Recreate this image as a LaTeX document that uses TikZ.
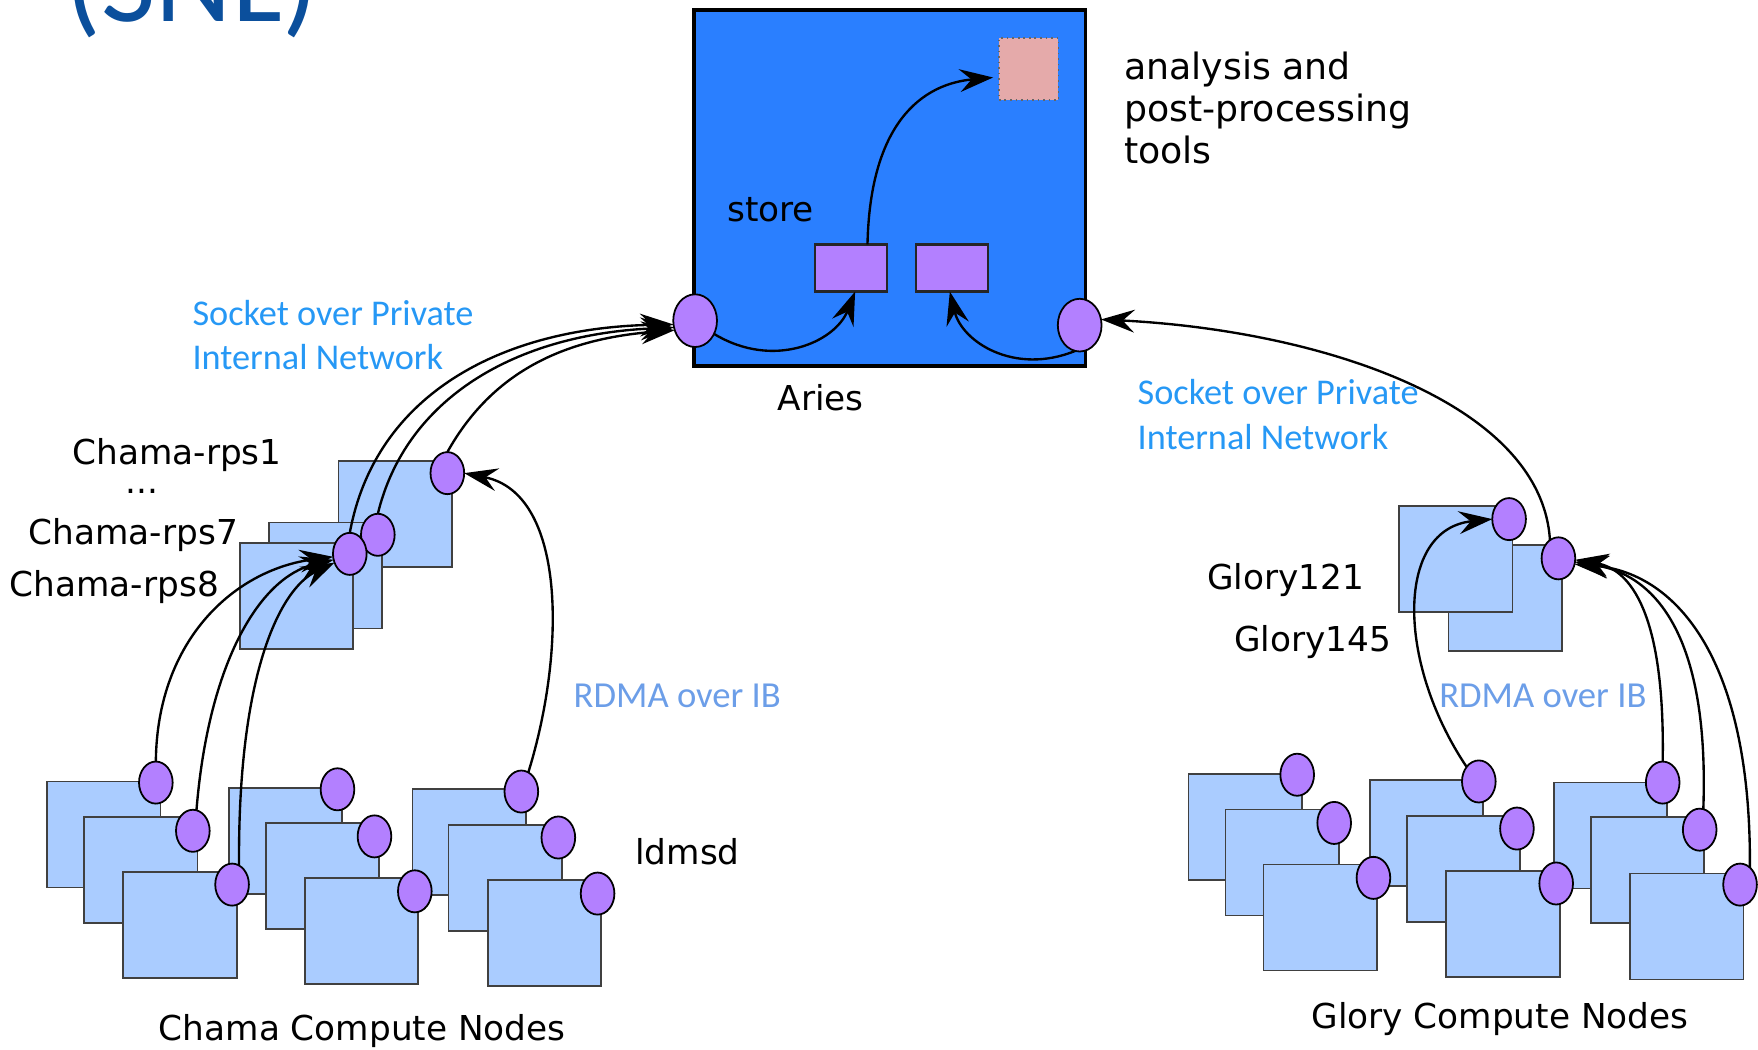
\documentclass[tikz,border=0pt]{standalone}
\usepackage{fontspec}
\setmainfont{DejaVu Sans}
\newfontfamily\netfont{Carlito}
\usepackage{tikz}
\usetikzlibrary{arrows.meta,shapes.geometric}
\definecolor{ariesblue}{RGB}{42,127,255}
\definecolor{nodeblue}{RGB}{170,204,255}
\definecolor{portpurple}{RGB}{179,128,255}
\definecolor{toolpink}{RGB}{229,170,170}
\definecolor{sockblue}{RGB}{38,152,245}
\definecolor{rdmablue}{RGB}{108,158,232}
\definecolor{snlblue}{RGB}{11,79,156}
\tikzset{
    cnode/.style={
           rectangle, anchor=north west,
           draw=black!75, line width=0.45pt,
           fill=nodeblue, inner sep=0pt, outer sep=0pt,
           minimum width=1.01cm, minimum height=0.945cm,
           },
    port/.style={
           ellipse,
           draw=black, line width=0.45pt,
           fill=portpurple, inner sep=0pt, outer sep=0pt,
           minimum width=0.30cm, minimum height=0.375cm,
           },
    bigport/.style={port, minimum width=0.39cm, minimum height=0.47cm},
    storebox/.style={
           rectangle, anchor=north west,
           draw=black!85, line width=0.6pt,
           fill=portpurple, inner sep=0pt, outer sep=0pt,
           minimum width=0.64cm, minimum height=0.42cm,
           },
    lbl/.style={anchor=base west, inner sep=0pt, font=\fontsize{8.7}{10.5}\selectfont},
    socklbl/.style={anchor=base west, inner sep=0pt, align=left, text=sockblue,
           font=\netfont\fontsize{9.2}{11.4}\selectfont},
    rdmalbl/.style={anchor=base west, inner sep=0pt, text=rdmablue,
           font=\netfont\fontsize{9.3}{11.4}\selectfont},
    flow/.style={-{Stealth[length=8.5pt,width=5.8pt,inset=3pt]}, line width=0.6pt},
}

\begin{document}
\begin{tikzpicture}[x=0.01cm, y=-0.01cm]
\useasboundingbox (0,0) rectangle (1568,936);
\node[anchor=base west, inner sep=0pt, text=snlblue, font=\netfont\fontsize{30}{30}\selectfont] (snl) at (58,19) {(SNL)};
\node[rectangle, anchor=north west, draw=black, line width=1pt, fill=ariesblue, inner sep=0pt, outer sep=0pt, minimum width=3.49cm, minimum height=3.17cm] (aries) at (619,9) {};
\node[rectangle, anchor=north west, draw=black!60, densely dotted, line width=0.4pt, fill=toolpink, inner sep=0pt, outer sep=0pt, minimum width=0.53cm, minimum height=0.55cm] (tools) at (891,34) {};
\node[storebox] (storea) at (727,218) {};
\node[storebox] (storeb) at (817,218) {};
\node[bigport] (ariesl) at (620,286) {};
\node[bigport] (ariesr) at (963,290) {};
\node[cnode] (rps1) at (302,411) {};
\node[cnode] (rps7) at (240,466) {};
\node[cnode] (rps8) at (214,484) {};
\node[cnode] (ca1) at (42,697) {};
\node[cnode] (ca2) at (75,729) {};
\node[cnode] (ca3) at (110,778) {};
\node[cnode] (cb1) at (204,703) {};
\node[cnode] (cb2) at (237,734) {};
\node[cnode] (cb3) at (272,783) {};
\node[cnode] (cc1) at (368,704) {};
\node[cnode] (cc2) at (400,736) {};
\node[cnode] (cc3) at (435,785) {};
\node[cnode] (glory145) at (1292,486) {};
\node[cnode] (glory121) at (1248,451) {};
\node[cnode] (ga1) at (1060,690) {};
\node[cnode] (ga2) at (1093,722) {};
\node[cnode] (ga3) at (1127,771) {};
\node[cnode] (gb1) at (1222,696) {};
\node[cnode] (gb2) at (1255,728) {};
\node[cnode] (gb3) at (1290,777) {};
\node[cnode] (gc1) at (1386,698) {};
\node[cnode] (gc2) at (1419,729) {};
\node[cnode] (gc3) at (1454,779) {};
\node[port] (r1) at (399,422) {};
\node[port] (r7) at (337,477) {};
\node[port] (r8) at (312,494) {};
\node[port] (pa1) at (139,698) {};
\node[port] (pa2) at (172,741) {};
\node[port] (pa3) at (207,789) {};
\node[port] (pb1) at (301,704) {};
\node[port] (pb2) at (334,746) {};
\node[port] (pb3) at (370,795) {};
\node[port] (pc1) at (465,706) {};
\node[port] (pc2) at (498,747) {};
\node[port] (pc3) at (533,797) {};
\node[port] (g121) at (1346,463) {};
\node[port] (g145) at (1390,498) {};
\node[port] (qa1) at (1157,691) {};
\node[port] (qa2) at (1190,734) {};
\node[port] (qa3) at (1225,783) {};
\node[port] (qb1) at (1319,697) {};
\node[port] (qb2) at (1353,739) {};
\node[port] (qb3) at (1388,788) {};
\node[port] (qc1) at (1483,698) {};
\node[port] (qc2) at (1516,740) {};
\node[port] (qc3) at (1552,789) {};
\draw[flow] (ariesl.-35) .. controls (690,330) and (745,305) .. (storea.-80);
\draw[flow] (ariesr.-100) .. controls (905,335) and (858,305) .. (storeb.-95);
\draw[flow, shorten >=1.5pt] (storea.55) .. controls (776,110) and (822,75) .. (tools.195);
\draw[flow] (r8.north) .. controls (335,350) and (450,292) .. (ariesl.190);
\draw[flow] (r7.north) .. controls (362,355) and (460,298) .. (ariesl.198);
\draw[flow] (r1.north) .. controls (440,330) and (505,302) .. (ariesl.205);
\draw[flow] (pa1.north) .. controls (140,570) and (210,508) .. (r8.190);
\draw[flow] (pa2.80) .. controls (186,590) and (232,515) .. (r8.200);
\draw[flow] (pa3.70) .. controls (212,600) and (250,525) .. (r8.210);
\draw[flow] (pc1.70) .. controls (505,580) and (505,440) .. (r1.east);
\draw[flow] (g145.115) .. controls (1375,360) and (1180,295) .. (ariesr.15);
\draw[flow] (qc1.north) .. controls (1485,560) and (1460,508) .. (g145.-5);
\draw[flow] (qc2.80) .. controls (1525,560) and (1472,512) .. (g145.-12);
\draw[flow] (qc3.60) .. controls (1562,580) and (1490,510) .. (g145.-20);
\draw[flow] (qb1.130) .. controls (1245,590) and (1245,472) .. (g121.west);
\node[lbl] (storelbl) at (648,198) {store};
\node[lbl] (arieslbl) at (693,366) {Aries};
\node[lbl, align=left, font=\fontsize{9.2}{10.7}\selectfont] (toolslbl) at (1002,146) {analysis and\\post-processing\\tools};
\node[socklbl] (sockleft) at (171,330) {Socket over Private\\Internal Network};
\node[socklbl] (sockright) at (1014,401) {Socket over Private\\Internal Network};
\node[lbl] (rps1lbl) at (64,414) {Chama-rps1};
\node[lbl] (dotslbl) at (111,440) {...};
\node[lbl] (rps7lbl) at (25,486) {Chama-rps7};
\node[lbl] (rps8lbl) at (8,532) {Chama-rps8};
\node[rdmalbl] (rdmaleft) at (511,631) {RDMA over IB};
\node[rdmalbl] (rdmaright) at (1283,631) {RDMA over IB};
\node[lbl] (ldmsdlbl) at (566,771) {ldmsd};
\node[lbl] (g121lbl) at (1076,526) {Glory121};
\node[lbl] (g145lbl) at (1100,581) {Glory145};
\node[lbl] (chamalbl) at (141,928) {Chama Compute Nodes};
\node[lbl] (glorylbl) at (1169,917) {Glory Compute Nodes};
\end{tikzpicture}
\end{document}
